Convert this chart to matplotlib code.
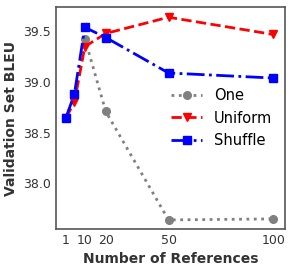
import matplotlib
matplotlib.use("Agg")
import matplotlib.pyplot as plt

refs = [1, 5, 10, 20, 50, 100]
one = [38.65, 38.87, 39.43, 38.71, 37.64, 37.65]
uniform = [38.65, 38.80, 39.35, 39.48, 39.64, 39.47]
shuffle = [38.65, 38.88, 39.54, 39.44, 39.09, 39.04]
xticks = [1, 10, 20, 50, 100]
yticks = [38.0, 38.5, 39.0, 39.5]

plt.rcParams['font.family'] = 'DejaVu Sans'
fig = plt.figure(figsize=(2.93, 2.73), dpi=100)
ax = fig.add_axes([0.191, 0.161, 0.782, 0.813])

ax.plot(refs, one, ':', color='gray', marker='o', ms=5.5, lw=2, label='One')
ax.plot(refs, uniform, '--', color='red', marker='v', ms=6, lw=2, label='Uniform')
ax.plot(refs, shuffle, '-.', color='blue', marker='s', ms=6, lw=2, label='Shuffle')

ax.set_xlim(-3.8, 105.7)
ax.set_ylim(37.55, 39.74)
ax.set_xticks(xticks)
ax.set_yticks(yticks)
ax.tick_params(labelsize=9, length=0, colors='#333333')
for s in ax.spines.values():
    s.set_color('#555555')
    s.set_linewidth(1.2)
ax.set_xlabel('Number of References', fontsize=10, fontweight='bold', color='#333333')
ax.set_ylabel('Validation Set BLEU', fontsize=10, fontweight='bold', color='#333333')
ax.legend(frameon=False, fontsize=10.5, loc='center right', bbox_to_anchor=(1.0, 0.5),
          handlelength=2.1)

fig.savefig('out.png', dpi=100)
